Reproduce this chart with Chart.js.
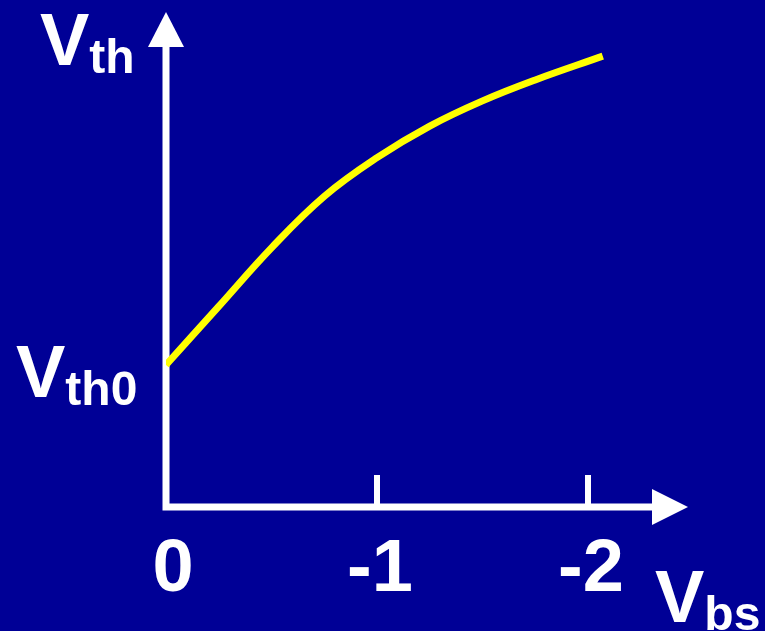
<!DOCTYPE html>
<html>
<head>
<meta charset="utf-8">
<title>Vth vs Vbs</title>
<script src="https://cdn.jsdelivr.net/npm/chart.js@4.4.1/dist/chart.umd.min.js"></script>
<style>
    html, body { margin: 0; padding: 0; background: #000096; }
    canvas { display: block; }
</style>
</head>
<body>
<canvas id="vthChart" width="765" height="631"></canvas>
<script>
// body bias (V) and threshold voltage (V) along the curve
const vbsValues = [0, -0.25, -0.5, -0.75, -1.0, -1.25, -1.5, -1.75, -2.07];
const vthValues = [0.40, 0.565, 0.73, 0.875, 0.984, 1.073, 1.144, 1.203, 1.27];

const tickValues = [0, -1, -2];
const tickLabels = ['0', '-1', '-2'];

const vth0 = vthValues[0];

const WHITE = '#ffffff';
const BIG_FONT = 'bold 74px "Liberation Sans", Arial, sans-serif';
const SUB_FONT = 'bold 48px "Liberation Sans", Arial, sans-serif';

// draws "V" followed by a lowered subscript
function drawSymbol(ctx, sub, x, baseline) {
    ctx.font = BIG_FONT;
    ctx.textAlign = 'left';
    ctx.textBaseline = 'alphabetic';
    ctx.fillText('V', x, baseline);
    const w = ctx.measureText('V').width;
    ctx.font = SUB_FONT;
    ctx.fillText(sub, x + w, baseline + 8);
}

const axesPlugin = {
    id: 'arrowAxes',
    beforeDatasetsDraw(chart) {
        const { ctx, chartArea, scales } = chart;
        const x0 = scales.x.getPixelForValue(0);
        const y0 = scales.y.getPixelForValue(0);
        const xTip = chartArea.right - 5.5;
        const yTip = chartArea.top + 2;

        ctx.save();
        ctx.strokeStyle = WHITE;
        ctx.fillStyle = WHITE;

        // axis lines
        ctx.lineWidth = 7;
        ctx.lineJoin = 'miter';
        ctx.beginPath();
        ctx.moveTo(x0, yTip + 34);
        ctx.lineTo(x0, y0);
        ctx.lineTo(xTip - 35, y0);
        ctx.stroke();

        // arrow heads
        ctx.beginPath();
        ctx.moveTo(x0, yTip);
        ctx.lineTo(x0 + 18, yTip + 35);
        ctx.lineTo(x0 - 18, yTip + 35);
        ctx.closePath();
        ctx.fill();

        ctx.beginPath();
        ctx.moveTo(xTip, y0);
        ctx.lineTo(xTip - 36, y0 - 18);
        ctx.lineTo(xTip - 36, y0 + 18);
        ctx.closePath();
        ctx.fill();

        // tick marks and labels
        ctx.lineWidth = 6;
        ctx.font = BIG_FONT;
        ctx.textAlign = 'center';
        ctx.textBaseline = 'alphabetic';
        tickValues.forEach((v, i) => {
            const px = scales.x.getPixelForValue(v);
            if (v !== 0) {
                ctx.beginPath();
                ctx.moveTo(px, y0 - 32);
                ctx.lineTo(px, y0);
                ctx.stroke();
            }
            ctx.fillText(tickLabels[i], px + (v === 0 ? 7 : 3), y0 + 84);
        });

        // axis titles
        drawSymbol(ctx, 'th', 40, 65);
        drawSymbol(ctx, 'th0', 16, scales.y.getPixelForValue(vth0) + 32);
        drawSymbol(ctx, 'bs', 655, 622);

        ctx.restore();
    }
};

new Chart(document.getElementById('vthChart'), {
    type: 'line',
    data: {
        datasets: [{
            data: vbsValues.map((v, i) => ({ x: v, y: vthValues[i] })),
            borderColor: '#ffff00',
            borderWidth: 7,
            borderCapStyle: 'butt',
            tension: 0.4,
            pointRadius: 0,
            fill: false
        }]
    },
    options: {
        responsive: false,
        animation: false,
        layout: {
            padding: { left: 166, right: 71.5, top: 10, bottom: 124 }
        },
        scales: {
            x: { type: 'linear', min: -2.5, max: 0, reverse: true, display: false },
            y: { type: 'linear', min: 0, max: 1.4, display: false }
        },
        plugins: {
            legend: { display: false },
            tooltip: { enabled: false }
        }
    },
    plugins: [axesPlugin]
});
</script>
</body>
</html>
